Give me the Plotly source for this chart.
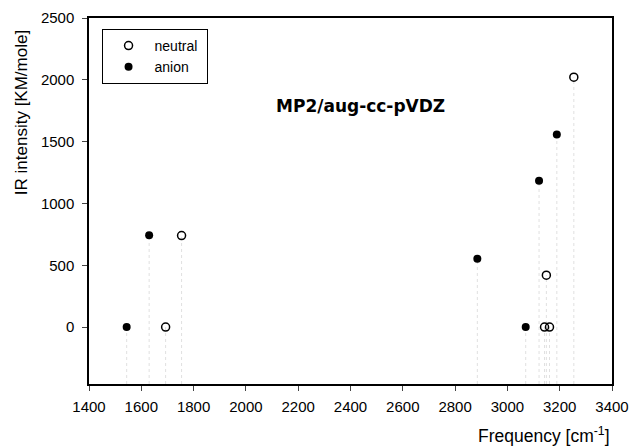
import plotly.graph_objects as go

anion_freq = [1544, 1630, 2885, 3070, 3121, 3189]
anion_int = [0, 742, 552, 0, 1184, 1558]
neutral_freq = [1693, 1754, 3142, 3161, 3149, 3254]
neutral_int = [0, 740, 0, 0, 420, 2021]

x_ticks = [1400, 1600, 1800, 2000, 2200, 2400, 2600, 2800, 3000, 3200, 3400]
y_ticks = [0, 500, 1000, 1500, 2000, 2500]
y_min = -460

fig = go.Figure()

# faint dotted drop lines
shapes = []
for xs, ys in [(anion_freq, anion_int), (neutral_freq, neutral_int)]:
    for xv, yv in zip(xs, ys):
        shapes.append(dict(type="line", xref="x", yref="y", x0=xv, x1=xv, y0=y_min, y1=yv,
                           line=dict(color="#e0e0e0", width=1, dash="dot"), layer="below"))

fig.add_trace(go.Scatter(x=neutral_freq, y=neutral_int, mode="markers", name="neutral\u00a0",
                         marker=dict(symbol="circle-open", size=8, color="black", line=dict(width=1.5))))
fig.add_trace(go.Scatter(x=anion_freq, y=anion_int, mode="markers", name="anion",
                         marker=dict(symbol="circle", size=8, color="black")))

fig.update_layout(
    width=631, height=447,
    margin=dict(l=89, r=19, t=18, b=63),
    paper_bgcolor="white", plot_bgcolor="white",
    font=dict(family="Liberation Sans, Arial, sans-serif", color="black", size=15),
    shapes=shapes,
    showlegend=True,
    legend=dict(x=0.024, y=0.97, xanchor="left", yanchor="top", bordercolor="black", borderwidth=1,
                bgcolor="white", font=dict(size=14), tracegroupgap=0, itemwidth=42),
    annotations=[dict(text="<b>MP2/aug-cc-pVDZ</b>", x=2438, y=1790, xref="x", yref="y",
                      showarrow=False, font=dict(size=17, family="DejaVu Sans, sans-serif")),
                 dict(text="Frequency [cm<sup>-1</sup>]", x=1, y=-0.138, xref="paper", yref="paper",
                      xanchor="right", yanchor="middle", showarrow=False, font=dict(size=17.5)),
                 dict(text="IR intensity [KM/mole]", x=-0.13, y=0.74, xref="paper", yref="paper",
                      xanchor="center", yanchor="middle",
                      textangle=-90, showarrow=False, font=dict(size=17))],
)
fig.update_xaxes(range=[1400, 3400], tickvals=x_ticks, ticks="outside", ticklen=5, showline=True,
                 linecolor="black", linewidth=1.5, mirror=True, showgrid=False, zeroline=False,
                 tickfont=dict(size=15), ticklabelstandoff=3, automargin=False)
fig.update_yaxes(range=[y_min, 2500], tickvals=y_ticks, ticks="outside", ticklen=5, showline=True,
                 linecolor="black", linewidth=1.5, mirror=True, showgrid=False, zeroline=False,
                 tickfont=dict(size=15), ticklabelstandoff=5, automargin=False)

fig.write_html("out.html", config={"displayModeBar": False},
               post_script="document.body.style.margin='0';document.body.style.overflow='hidden';")
